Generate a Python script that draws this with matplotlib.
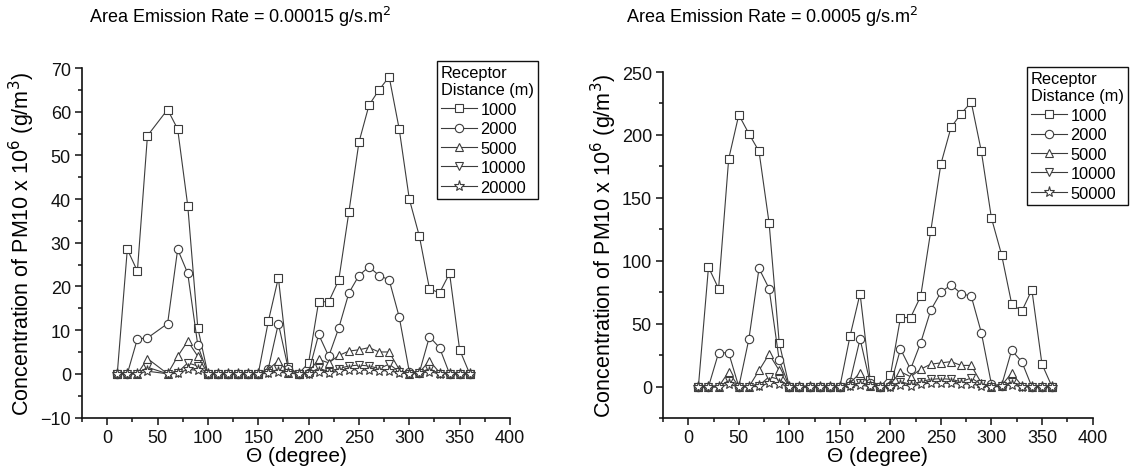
import matplotlib
matplotlib.use("Agg")
import matplotlib.pyplot as plt
from matplotlib.ticker import MultipleLocator

plt.rcParams['font.family'] = ['Liberation Sans', 'DejaVu Sans']

# ---------------- data ----------------
theta_left = [10, 20, 30, 40, 60, 70, 80, 90, 100, 110, 120, 130, 140, 150, 160, 170, 180, 190,
              200, 210, 220, 230, 240, 250, 260, 270, 280, 290, 300, 310, 320, 330, 340, 350, 360]
left_1000 = [0, 28.5, 23.5, 54.5, 60.5, 56, 38.5, 10.5, 0, 0, 0, 0, 0, 0, 12, 22, 1.5, 0,
             2.5, 16.5, 16.5, 21.5, 37, 53, 61.5, 65, 68, 56, 40, 31.5, 19.5, 18.5, 23, 5.5, 0]
left_2000 = [0, 0, 8, 8.2, 11.5, 28.5, 23, 6.5, 0, 0, 0, 0, 0, 0, 1.2, 11.5, 1, 0,
             0.3, 9, 4, 10.5, 18.5, 22.5, 24.5, 22.5, 21.5, 13, 0.5, 0.3, 8.5, 6, 0, 0, 0]
left_5000 = [0, 0, 0, 3.5, 0, 4, 7.5, 4, 0, 0, 0, 0, 0, 0, 1, 3, 0.3, 0,
             0.5, 3.3, 2.5, 4.2, 5.2, 5.5, 6, 5, 5, 1, 0, 0.3, 3, 0.3, 0, 0, 0]
left_10000 = [0, 0, 0, 1.5, 0, 0.3, 2.5, 1.8, 0, 0, 0, 0, 0, 0, 0.3, 1, 0.2, 0,
              0, 1.3, 0.5, 1.2, 1.8, 2, 1.8, 1.2, 2.2, 0.5, 0, 0.2, 1.2, 0, 0, 0, 0]
left_20000 = [0, 0, 0, 0.6, 0, 0.1, 1, 0.8, 0, 0, 0, 0, 0, 0, 0.1, 0.4, 0.1, 0,
              0, 0.5, 0.2, 0.6, 0.9, 0.9, 0.8, 0.7, 0.7, 0.2, 0, 0.1, 0.5, 0, 0, 0, 0]

theta_right = [10, 20, 30, 40, 50, 60, 70, 80, 90, 100, 110, 120, 130, 140, 150, 160, 170, 180,
               190, 200, 210, 220, 230, 240, 250, 260, 270, 280, 290, 300, 310, 320, 330, 340, 350, 360]
right_1000 = [0, 95, 78, 181, 216, 201, 187, 130, 35, 0, 0, 0, 0, 0, 0, 40, 74, 5.5,
              0, 9, 55, 55, 72, 124, 177, 206, 217, 226, 187, 134, 105, 66, 60, 77, 18, 0]
right_2000 = [0, 0, 27, 27, 0, 38, 94, 78, 21, 0, 0, 0, 0, 0, 0, 4, 38, 3,
              0, 1, 30, 14, 35, 61, 75, 81, 74, 72, 43, 2, 1, 29, 20, 0, 0, 0]
right_5000 = [0, 0, 0, 12, 0, 0, 13, 26, 13, 0, 0, 0, 0, 0, 0, 3, 11, 1,
              0, 2, 12, 8, 14, 18, 19, 20, 17, 17, 3, 0, 1, 11, 1, 0, 0, 0]
right_10000 = [0, 0, 0, 5, 0, 0, 1, 8, 6, 0, 0, 0, 0, 0, 0, 1, 3, 0.5,
               0, 0, 4, 2, 4, 6, 6.5, 6, 4, 7, 2, 0, 0.5, 4, 0, 0, 0, 0]
right_50000 = [0, 0, 0, 2, 0, 0, 0.3, 3, 2.5, 0, 0, 0, 0, 0, 0, 0.3, 1.3, 0.3,
               0, 0, 1.5, 0.7, 2, 3, 3, 2.7, 2.3, 2.3, 0.7, 0, 0.3, 1.7, 0, 0, 0, 0]

left_labels = ['1000', '2000', '5000', '10000', '20000']
right_labels = ['1000', '2000', '5000', '10000', '50000']
markers = ['s', 'o', '^', 'v', '*']

title_left = 'Area Emission Rate = 0.00015 g/s.m$^2$'
title_right = 'Area Emission Rate = 0.0005 g/s.m$^2$'
ylabel = 'Concentration of PM10 x 10$^6$ (g/m$^3$)'
xlabel = '\u0398 (degree)'

# ---------------- figure ----------------
W, H = 1136, 477
fig = plt.figure(figsize=(W / 100, H / 100), dpi=100)

def axes_px(x0, x1, ytop, ybot):
    return fig.add_axes([x0 / W, 1 - ybot / H, (x1 - x0) / W, (ybot - ytop) / H])

axL = axes_px(82, 510, 69, 418.5)
axR = axes_px(663, 1092.5, 73, 419.3)

line_col = '#3c3c3c'

def draw(ax, x, series, labels, ylim, ymaj, ymin):
    for ys, m, lab in zip(series, markers, labels):
        ms = 8 if m == '*' else 6
        ax.plot(x, ys, color=line_col, lw=0.8, marker=m, ms=ms, mfc='white',
                mec=line_col, mew=0.8, label=lab)
    ax.set_xlim(-25, 400)
    ax.set_ylim(*ylim)
    ax.xaxis.set_major_locator(MultipleLocator(50))
    ax.xaxis.set_minor_locator(MultipleLocator(25))
    ax.yaxis.set_major_locator(MultipleLocator(ymaj))
    ax.yaxis.set_minor_locator(MultipleLocator(ymin))
    for s in ['top', 'right']:
        ax.spines[s].set_visible(False)
    for s in ['left', 'bottom']:
        ax.spines[s].set_linewidth(1.2)
        ax.spines[s].set_color('#111111')
    ax.tick_params(which='major', direction='out', length=5, width=1.1, labelsize=13,
                   colors='#111111', pad=3)
    ax.tick_params(which='minor', direction='out', length=3, width=1.1, colors='#111111')
    ax.set_xlabel(xlabel, fontsize=15, labelpad=0)
    ax.set_ylabel(ylabel, fontsize=15.5, labelpad=2)

draw(axL, theta_left, [left_1000, left_2000, left_5000, left_10000, left_20000],
     left_labels, (-10, 70), 10, 5)
draw(axR, theta_right, [right_1000, right_2000, right_5000, right_10000, right_50000],
     right_labels, (-25, 250), 50, 25)

fig.text(240 / W, 1 - 17 / H, title_left, ha='center', va='center', fontsize=13)
fig.text(772 / W, 1 - 17 / H, title_right, ha='center', va='center', fontsize=13)

def legend(ax, x0, ytop):
    leg = ax.legend(title='Receptor\nDistance (m)', loc='upper left',
                    bbox_to_anchor=(x0 / W, 1 - ytop / H), bbox_transform=fig.transFigure,
                    borderaxespad=0,
                    fontsize=11.8, title_fontsize=11.8, numpoints=1, handlelength=2.2,
                    handletextpad=0.2, labelspacing=0.27, borderpad=0.25,
                    fancybox=False, framealpha=1, edgecolor='#111111', alignment='left')
    leg.get_frame().set_linewidth(1.0)

legend(axL, 437, 62)
legend(axR, 1027, 68)

fig.savefig('out.png', dpi=100)
